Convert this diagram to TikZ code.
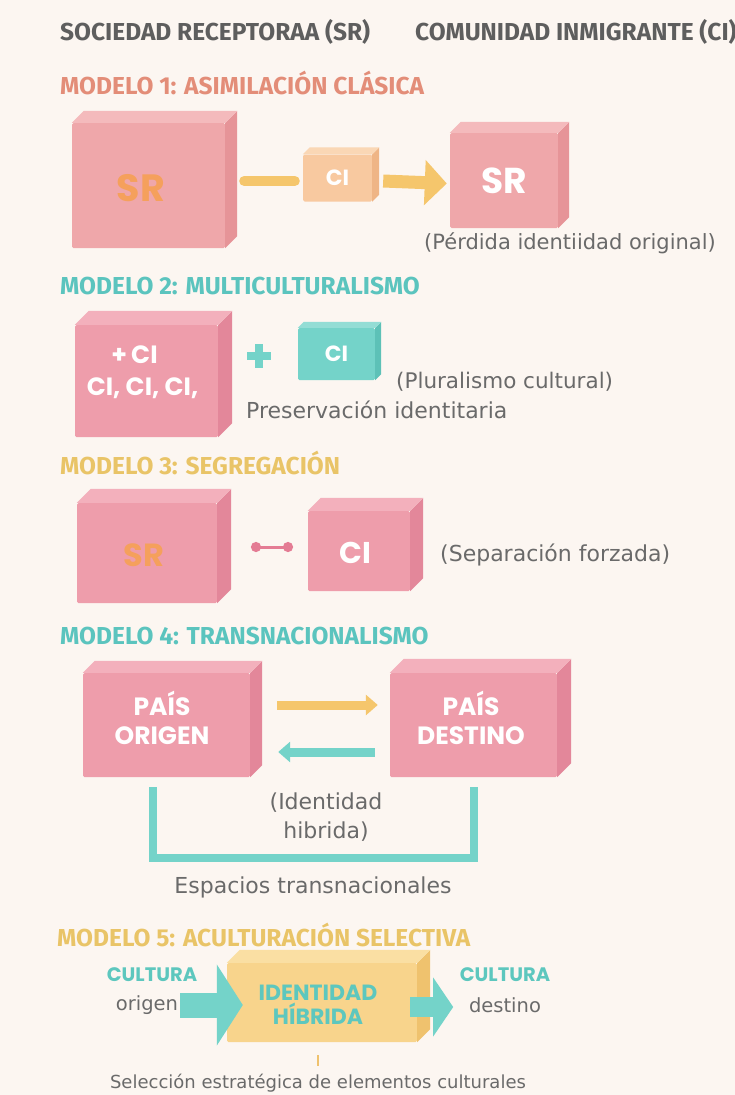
\documentclass[tikz,border=0pt]{standalone}
\usepackage{fontspec}
\setmainfont{DejaVu Sans}
\newfontfamily\hf{Fira Sans}
\newfontfamily\bx{Poppins}
\usetikzlibrary{calc,arrows.meta}

\definecolor{bg}{HTML}{FCF6F1}
\definecolor{hgray}{HTML}{5E5E5E}
\definecolor{tgray}{HTML}{6A6A6A}
\definecolor{hsalmon}{HTML}{E38D78}
\definecolor{hteal}{HTML}{5BC4BE}
\definecolor{hyellow}{HTML}{E9C467}
\definecolor{pkAf}{HTML}{EFA7AA}
\definecolor{pkAs}{HTML}{E69498}
\definecolor{pkAt}{HTML}{F4BABC}
\definecolor{pkf}{HTML}{EE9DAB}
\definecolor{pks}{HTML}{E3879A}
\definecolor{pkt}{HTML}{F3B0BC}
\definecolor{pcf}{HTML}{F8C9A0}
\definecolor{pcs}{HTML}{EFB586}
\definecolor{pct}{HTML}{FAD7B5}
\definecolor{tlf}{HTML}{74D3C9}
\definecolor{tls}{HTML}{5DC1B7}
\definecolor{tlt}{HTML}{93DDD5}
\definecolor{ylf}{HTML}{F8D48C}
\definecolor{yls}{HTML}{EFC26E}
\definecolor{ylt}{HTML}{FADFA3}
\definecolor{yarr}{HTML}{F5C66C}
\definecolor{orng}{HTML}{F5A05C}
\definecolor{tealtxt}{HTML}{5DC7BE}
\definecolor{dumb}{HTML}{E47C94}

\newcommand\cubesides[4]{%
  \fill[#3] (#1.north east) -- ++(#2,-#2) -- ($(#1.south east)+(#2,-#2)$) -- (#1.south east) -- cycle;
  \fill[#4] (#1.north west) -- ++(#2,-#2) -- ($(#1.north east)+(#2,-#2)$) -- (#1.north east) -- cycle;}

\tikzset{
  hdr/.style={font=\hf\bfseries\fontsize{24.5}{27}\selectfont, anchor=west, inner sep=0},
  lbl/.style={font=\fontsize{#1}{#1}\selectfont, text=tgray, inner sep=0},
  face/.style={inner sep=0, rounded corners=1.5},
  btxt/.style={font=\bx\bfseries\fontsize{#1}{#1}\selectfont, inner sep=0, text=white},
  ybar/.style={draw=yarr, line width=10, line cap=round},
  yarrow/.style={draw=yarr, line width=#1, -{Triangle[length=22pt,width=44pt,fill=yarr]}},
  tealbr/.style={draw=tlf, line width=8},
}

\begin{document}
\begin{tikzpicture}[x=1pt,y=-1pt]
\fill[bg] (0,0) rectangle (735,1095);
\useasboundingbox (0,0) rectangle (735,1095);

% legend
\node[hdr, text=hgray] (lg1) at (60,32) {SOCIEDAD RECEPTORAA (SR)};
\node[hdr, text=hgray] (lg2) at (415,32) {COMUNIDAD INMIGRANTE (CI)};

% ---------- MODELO 1
\node[hdr, text=hsalmon] (h1) at (60,83) {MODELO 1: ASIMILACIÓN CLÁSICA};
\node[face, fill=pkAf, minimum width=153, minimum height=125] (sr1) at (148.5,185.5) {};
\cubesides{sr1}{12}{pkAs}{pkAt}
\node[btxt=38, text=orng] (sr1t) at (141,188) {SR};
\node[face, fill=pcf, minimum width=69, minimum height=47] (ci1) at (337.5,178) {};
\cubesides{ci1}{7}{pcs}{pct}
\node[btxt=22] (ci1t) at (ci1) {CI};
\node[face, fill=pkAf, minimum width=108, minimum height=95] (sr2) at (504,180.5) {};
\cubesides{sr2}{11}{pkAs}{pkAt}
\node[btxt=36] (sr2t) at (sr2) {SR};
\draw[ybar] ($(sr1.east|-ci1.west)+(19,3)$) -- ($(ci1.west)+(-8,3)$);
\draw[yarrow=13] ($(ci1.east)+(11,3)$) -- ($(sr2.west)+(-3,3)$);
\node[lbl=21] (p1) at (570,243) {(Pérdida identiidad original)};

% ---------- MODELO 2
\node[hdr, text=hteal] (h2) at (60,286) {MODELO 2: MULTICULTURALISMO};
\node[face, fill=pkf, minimum width=143, minimum height=112] (mc) at (146.5,381) {};
\cubesides{mc}{14}{pks}{pkt}
\node[btxt=25] (mct1) at ($(mc.center)+(-12,-26)$) {+\,CI};
\node[btxt=25] (mct2) at ($(mc.center)+(-4,7)$) {CI, CI, CI,};
\coordinate (plus) at (259,356);
\draw[draw=tlf, line width=8] ($(plus)+(-12,0)$) -- ($(plus)+(12,0)$);
\draw[draw=tlf, line width=8] ($(plus)+(0,-12)$) -- ($(plus)+(0,12)$);
\node[face, fill=tlf, minimum width=77, minimum height=52] (ci2) at (336.5,354) {};
\cubesides{ci2}{6}{tls}{tlt}
\node[btxt=22] (ci2t) at (ci2) {CI};
\node[lbl=21.5, anchor=west] (p2) at (396,382) {(Pluralismo cultural)};
\node[lbl=22, anchor=west] (p3) at (246,410) {Preservación identitaria};

% ---------- MODELO 3
\node[hdr, text=hyellow] (h3) at (60,463) {MODELO 3: SEGREGACIÓN};
\node[face, fill=pkf, minimum width=140, minimum height=100] (sr3) at (147,553) {};
\cubesides{sr3}{14}{pks}{pkt}
\node[btxt=32, text=orng] (sr3t) at (144,555) {SR};
\node[face, fill=pkf, minimum width=102, minimum height=80] (ci3) at (359,551) {};
\cubesides{ci3}{13}{pks}{pkt}
\node[btxt=30] (ci3t) at (355,553) {CI};
\coordinate (d1) at (251,547);
\coordinate (d2) at (293,547);
\draw[draw=dumb, line width=3, {Circle[length=10pt,fill=dumb]}-{Circle[length=10pt,fill=dumb]}] (d1) -- (d2);
\node[lbl=22, anchor=west] (p4) at (440,555) {(Separación forzada)};

% ---------- MODELO 4
\node[hdr, text=hteal] (h4) at (60,636) {MODELO 4: TRANSNACIONALISMO};
\node[face, fill=pkf, minimum width=167, minimum height=104] (po) at (166.5,725) {};
\cubesides{po}{12}{pks}{pkt}
\node[btxt=25, align=center] (pot) at (162,718) {PAÍS\\[4pt]ORIGEN};
\node[face, fill=pkf, minimum width=167, minimum height=104] (pd) at (473.5,725) {};
\cubesides{pd}{14}{pks}{pkt}
\node[btxt=25, align=center] (pdt) at (471,718) {PAÍS\\[4pt]DESTINO};
\draw[draw=yarr, line width=9, -{Triangle[length=12pt,width=20pt,fill=yarr]}] ($(po.east)+(27,-20)$) -- ($(pd.west)+(-12,-20)$);
\draw[draw=tlf, line width=9, -{Triangle[length=12pt,width=20pt,fill=tlf]}] ($(pd.west)+(-15,27)$) -- ($(po.east)+(28,27)$);
\draw[tealbr] ($(po.south)+(-13.5,10)$) -- ($(po.south)+(-13.5,81)$) -| ($(pd.south)+(0,10)$);
\node[lbl=22, align=center, font=\fontsize{22}{29}\selectfont] (idh) at (326,817) {(Identidad\\hibrida)};
\node[lbl=22] (esp) at (313,887) {Espacios transnacionales};

% ---------- MODELO 5
\node[hdr, text=hyellow] (h5) at (57,935) {MODELO 5: ACULTURACIÓN SELECTIVA};
\node[face, fill=ylf, minimum width=190, minimum height=79] (hy) at (322,1002.5) {};
\cubesides{hy}{13}{yls}{ylt}
\node[text=tealtxt, align=center, inner sep=0, font=\bx\bfseries\fontsize{22}{24}\selectfont] (hyt) at (318,1005) {IDENTIDAD\\HÍBRIDA};
\coordinate (a1) at (180,1005);
\draw[draw=tlf, line width=25, -{Triangle[length=26pt,width=80pt,fill=tlf]}] (a1) -- ($(hy.west)+(16,2.5)$);
\draw[draw=tlf, line width=20, -{Triangle[length=20pt,width=58pt,fill=tlf]}] ($(hy.east)+(-7,4.5)$) -- ($(hy.east)+(36,4.5)$);
\node[btxt=19.5, text=tealtxt] (c1) at (152,975) {CULTURA};
\node[lbl=19.5] (o1) at (147,1005) {origen};
\node[btxt=19.5, text=tealtxt] (c2) at (505,975) {CULTURA};
\node[lbl=19.5] (o2) at (505,1005) {destino};
\node[lbl=18] (sel) at (318,1083) {Selección estratégica de elementos culturales};
\draw[draw=yls, line width=2] ($(sel.north|-hy.south)+(0,13)$) -- ($(sel.north|-hy.south)+(0,24)$);
\end{tikzpicture}
\end{document}
